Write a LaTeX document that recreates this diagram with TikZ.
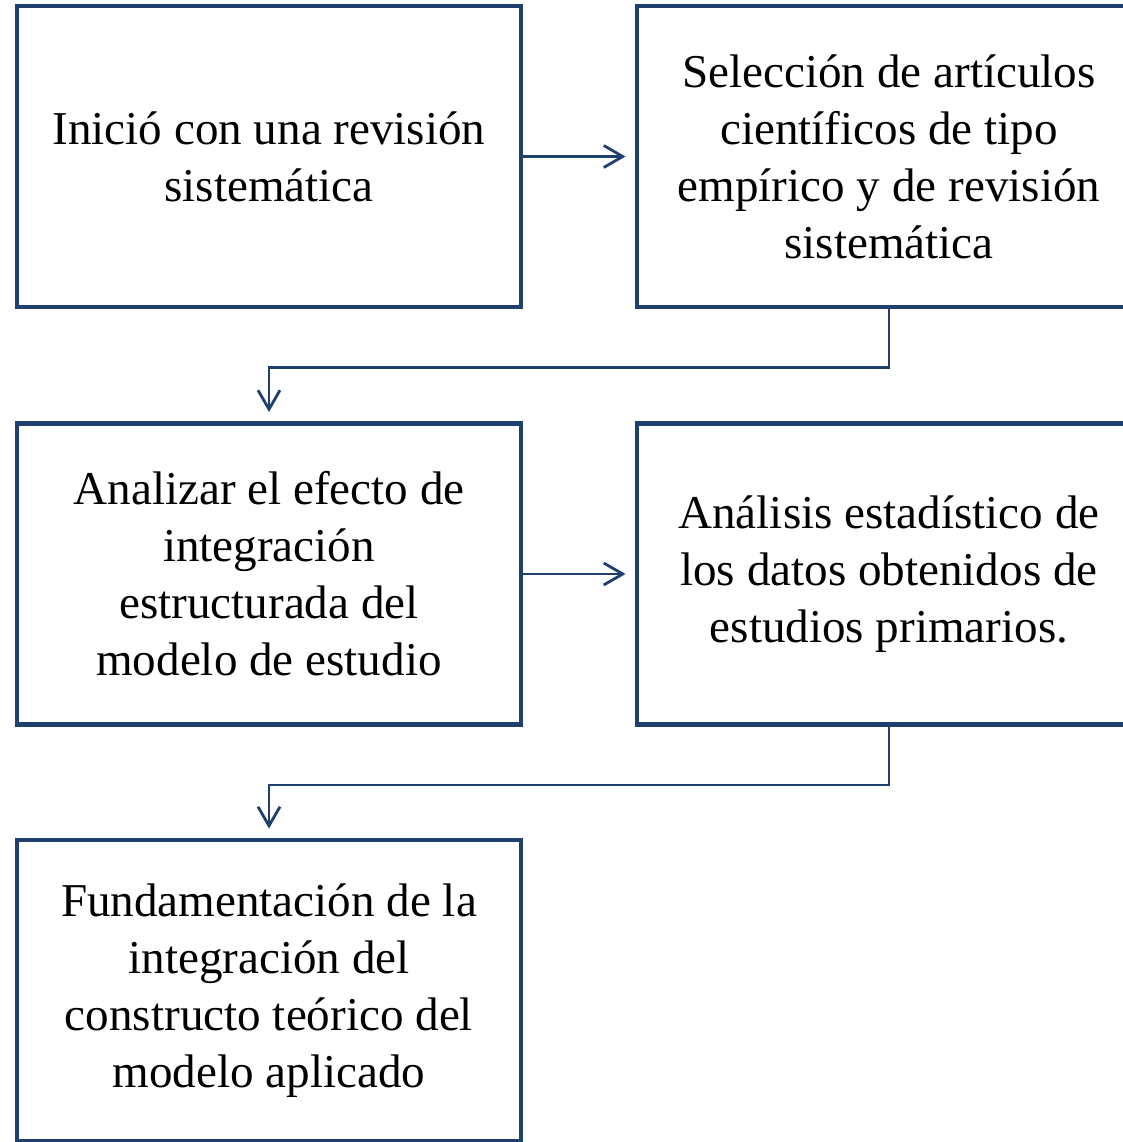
\documentclass[tikz,border=0pt]{standalone}
\usepackage{fontspec}
\setmainfont{Liberation Serif}
\usetikzlibrary{arrows.meta}
\definecolor{boxblue}{RGB}{31,63,111}
\begin{document}
\begin{tikzpicture}[
        paso/.style={draw=boxblue, line width=1.4pt, minimum width=5.04cm, minimum height=3.01cm,
            align=center, inner sep=0pt, font=\fontsize{13.4}{16.2}\selectfont},
        flecha/.style={draw=boxblue, line width=0.8pt, -{Straight Barb[length=1.9mm,width=2.2mm]}, shorten >=0.9mm}]
        \useasboundingbox (0,0) rectangle (11.23,11.42);
        \node[paso] (inicio) at (2.69,9.855) {Inició con una revisión\\sistemática};
        \node[paso] (seleccion) at (8.89,9.855) {Selección de artículos\\científicos de tipo\\empírico y de revisión\\sistemática};
        \node[paso] (analizar) at (2.69,5.68) {Analizar el efecto de\\integración\\estructurada del\\modelo de estudio};
        \node[paso] (analisis) at (8.89,5.68) {Análisis estadístico de\\los datos obtenidos de\\estudios primarios.};
        \node[paso] (fundamento) at (2.69,1.515) {Fundamentación de la\\integración del\\constructo teórico del\\modelo aplicado};
        \draw[flecha] (inicio.east) -- (seleccion.west);
        \draw[flecha] (seleccion.south) -- ++(0,-0.58) -| (analizar.north);
        \draw[flecha] (analizar.east) -- (analisis.west);
        \draw[flecha] (analisis.south) -- ++(0,-0.58) -| (fundamento.north);
    \end{tikzpicture}
\end{document}
